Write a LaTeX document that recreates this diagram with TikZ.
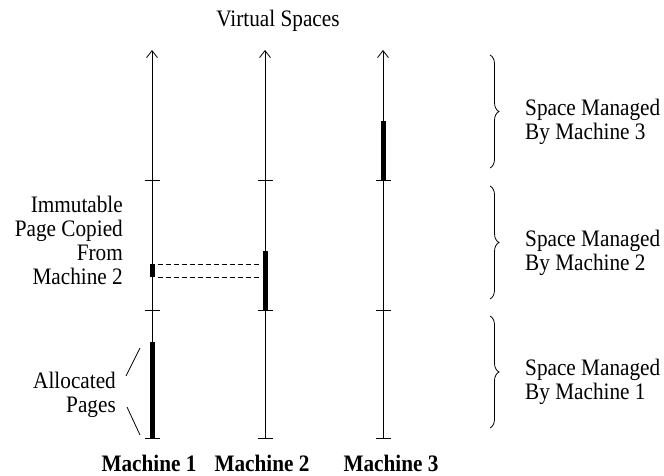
\documentclass[tikz,border=0pt]{standalone}
\usepackage{fontspec}
\setmainfont{Liberation Serif}[FakeStretch=0.9]
\usetikzlibrary{arrows.meta,positioning,calc,decorations.pathreplacing}

\begin{document}
\begin{tikzpicture}[x=1pt,y=-1pt,
  axis/.style={line width=0.8pt,-{Straight Barb[length=7pt,width=11pt]}},
  tick/.style={line width=0.8pt},
  page/.style={line width=5pt},
  copyline/.style={line width=0.6pt,dash pattern=on 5pt off 3pt},
  spacebrace/.style={decorate,decoration={brace,amplitude=9pt},line width=0.8pt},
  lbl/.style={font=\fontsize{23.6}{24}\selectfont,inner sep=0pt}]
  \useasboundingbox (0,0) rectangle (664,475);
  % title
  \node[lbl] (title) at (278,21) {Virtual Spaces};
  % machine axes with ticks
  \foreach \m/\x/\lx in {1/152/149,2/265/262,3/383/391}{
    \coordinate (bot\m) at (\x,438);
    \coordinate (top\m) at (\x,50);
    \draw[axis] (bot\m) -- (top\m);
    \foreach \y in {180,310,438} \draw[tick] (\x-7.5,\y) -- (\x+7.5,\y);
    \node[lbl,font=\fontsize{23.6}{24}\selectfont\bfseries,anchor=base] (mach\m) at (\lx,471) {Machine \m};
  }
  % pages
  \coordinate (alloc1) at (152,342);
  \coordinate (copyA) at (152,264);
  \coordinate (copyB) at (152,277);
  \coordinate (own2) at (265,251);
  \coordinate (own2b) at (265,310);
  \coordinate (own3) at (383,121);
  \coordinate (own3b) at (383,180);
  \draw[page] (alloc1) -- (bot1);
  \draw[page] (copyA) -- (copyB);
  \draw[page] (own2) -- (own2b);
  \draw[page] (own3) -- (own3b);
  % copy of the immutable page
  \draw[copyline] ($(copyA)+(6,0)$) -- ($(copyA)+(107,0)$);
  \draw[copyline] ($(copyB)+(6,0)$) -- ($(copyB)+(107,0)$);
  % left labels
  \node[lbl,align=right,anchor=east] (immut) at (123,240) {Immutable\\Page Copied\\From\\Machine 2};
  \node[lbl,align=right,anchor=east] (alloc) at (116,395) {Allocated\\Pages};
  \coordinate (allocU) at (140,348);
  \coordinate (allocD) at (140,435);
  \draw[tick] (allocU) -- (126,376);
  \draw[tick] (127,407) -- (allocD);
  % managed spaces
  \foreach \m/\a/\b in {3/55/168,2/186/299,1/316/428}{
    \draw[spacebrace] (490,\a) -- (490,\b);
    \node[lbl,align=left,anchor=west] (space\m) at (525,{(\a+\b)/2+10}) {Space Managed\\By Machine \m};
  }
\end{tikzpicture}
\end{document}
